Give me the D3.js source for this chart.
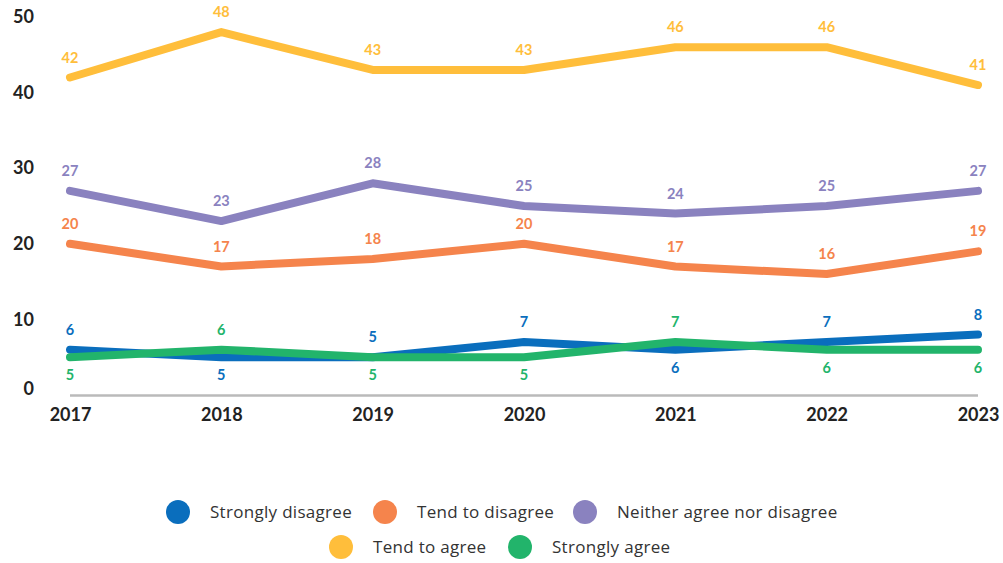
<!DOCTYPE html>
<html><head><meta charset="utf-8">
<script src="https://cdn.jsdelivr.net/npm/d3@7/dist/d3.min.js"></script>
<style>body{margin:0;background:#fff;} svg{display:block;font-family:Lato,"Open Sans",sans-serif;}</style>
</head><body><svg id="c" width="1003" height="563"></svg>
<script>
const years = ["2017","2018","2019","2020","2021","2022","2023"];
const seriesNames = ["Strongly disagree","Tend to disagree","Neither agree nor disagree","Tend to agree","Strongly agree"];
const colors = ["#0A6EBD","#F5844C","#8A82BF","#FFBE3B","#22B46B"];
const stronglyDisagree = [6,5,5,7,6,7,8];
const tendToDisagree = [20,17,18,20,17,16,19];
const neither = [27,23,28,25,24,25,27];
const tendToAgree = [42,48,43,43,46,46,41];
const stronglyAgree = [5,6,5,5,7,6,6];
// label placement: 1 = above, -1 = below
const sdPos = [1,-1,1,1,-1,1,1];
const saPos = [-1,1,-1,-1,1,-1,-1];
const yTicks = [0,10,20,30,40,50];

const values = [stronglyDisagree,tendToDisagree,neither,tendToAgree,stronglyAgree];
const positions = [sdPos,[1,1,1,1,1,1,1],[1,1,1,1,1,1,1],[1,1,1,1,1,1,1],saPos];

const svg = d3.select("#c");
const x = d3.scalePoint().domain(years).range([70,978]);
const y = d3.scaleLinear().domain([0,50]).range([395,17]);

// baseline
svg.append("line").attr("x1",70).attr("x2",978).attr("y1",y(0)+0.5).attr("y2",y(0)+0.5)
  .attr("stroke","#bababa").attr("stroke-width",2.5);

// y axis labels
const yAxis = d3.axisLeft(y).tickValues(yTicks).tickSize(0).tickPadding(0);
const gy = svg.append("g").attr("transform","translate(34,0)").call(yAxis);
gy.select(".domain").remove();
gy.selectAll("text").attr("font-size",18).attr("font-weight",700).attr("fill","#222")
  .attr("font-family","Lato,sans-serif")
  .attr("dy", d => d===0 ? "-0.05em" : "0.32em");

// x axis labels
const xAxis = d3.axisBottom(x).tickSize(0).tickPadding(0);
const gx = svg.append("g").attr("transform","translate(0,408)").call(xAxis);
gx.select(".domain").remove();
gx.selectAll("text").attr("font-size",18).attr("font-weight",700).attr("fill","#222")
  .attr("font-family","Lato,sans-serif").attr("dy","0.71em");

const line = d3.line().x((d,i)=>x(years[i])).y(d=>y(d));
values.forEach((vals,s)=>{
  svg.append("path").datum(vals).attr("d",line).attr("fill","none")
    .attr("stroke",colors[s]).attr("stroke-width",8)
    .attr("stroke-linecap","round").attr("stroke-linejoin","round");
});
values.forEach((vals,s)=>{
  svg.append("g").selectAll("text").data(vals).join("text")
    .attr("x",(d,i)=>x(years[i]))
    .attr("y",(d,i)=> positions[s][i]>0 ? y(d)-20 : y(d)+18)
    .attr("dy","0.35em")
    .attr("text-anchor","middle").attr("font-size",14.5).attr("font-weight",700)
    .attr("fill",colors[s]).text(d=>d);
});

// legend
const legendItems = [
  {i:0,cx:178,cy:512},{i:1,cx:385,cy:512},{i:2,cx:585,cy:512},
  {i:3,cx:341,cy:547},{i:4,cx:520,cy:547}
];
const lg = svg.append("g");
legendItems.forEach(it=>{
  lg.append("circle").attr("cx",it.cx).attr("cy",it.cy).attr("r",12).attr("fill",colors[it.i]);
  lg.append("text").attr("x",it.cx+32).attr("y",it.cy).attr("dy","0.35em")
    .attr("font-family","'Open Sans',sans-serif").attr("letter-spacing","0.3px")
    .attr("font-size",17).attr("fill","#333").text(seriesNames[it.i]);
});
</script></body></html>
